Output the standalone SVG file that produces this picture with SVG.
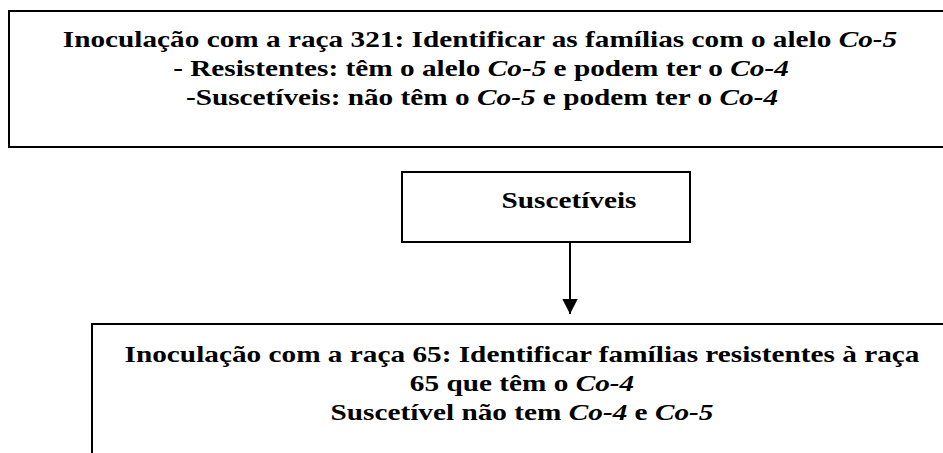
<svg xmlns="http://www.w3.org/2000/svg" width="943" height="453" viewBox="0 0 943 453">
<style>
.box{fill:#fff;stroke:#000;stroke-width:2}
.t{font-family:"Liberation Serif","Times New Roman",serif;font-weight:bold;font-size:24px;fill:#000;text-anchor:middle}
.i{font-style:italic}
.conn{stroke:#000;stroke-width:2;fill:none}
</style>
<defs>
<marker id="ah" markerWidth="16" markerHeight="16" refX="15" refY="8" orient="auto" markerUnits="userSpaceOnUse">
<path d="M0,0.3 L15,8 L0,15.7 Z" fill="#000"/>
</marker>
</defs>
<rect width="943" height="453" fill="#fff"/>
<g id="node-top">
<rect class="box" x="9" y="11" width="940" height="136"/>
<text class="t" transform="translate(480,47) scale(1.22,1)">Inoculação com a raça 321: Identificar as famílias com o alelo <tspan class="i">Co-5</tspan></text>
<text class="t" transform="translate(481,76) scale(1.22,1)">- Resistentes: têm o alelo <tspan class="i">Co-5</tspan> e podem ter o <tspan class="i">Co-4</tspan></text>
<text class="t" transform="translate(482,105) scale(1.22,1)">-Suscetíveis: não têm o <tspan class="i">Co-5</tspan> e podem ter o <tspan class="i">Co-4</tspan></text>
</g>
<g id="node-suscetiveis">
<rect class="box" x="402" y="172" width="288" height="70"/>
<text class="t" transform="translate(569,208) scale(1.22,1)">Suscetíveis</text>
</g>
<g id="node-bottom">
<rect class="box" x="92" y="324" width="860" height="140"/>
<text class="t" transform="translate(522,362) scale(1.22,1)">Inoculação com a raça 65: Identificar famílias resistentes à raça</text>
<text class="t" transform="translate(522,391) scale(1.22,1)">65 que têm o <tspan class="i">Co-4</tspan></text>
<text class="t" transform="translate(522,420) scale(1.22,1)">Suscetível não tem <tspan class="i">Co-4</tspan> e <tspan class="i">Co-5</tspan></text>
</g>
<g id="connectors">
<line class="conn" x1="570" y1="242" x2="570" y2="314" marker-end="url(#ah)"/>
</g>
</svg>
